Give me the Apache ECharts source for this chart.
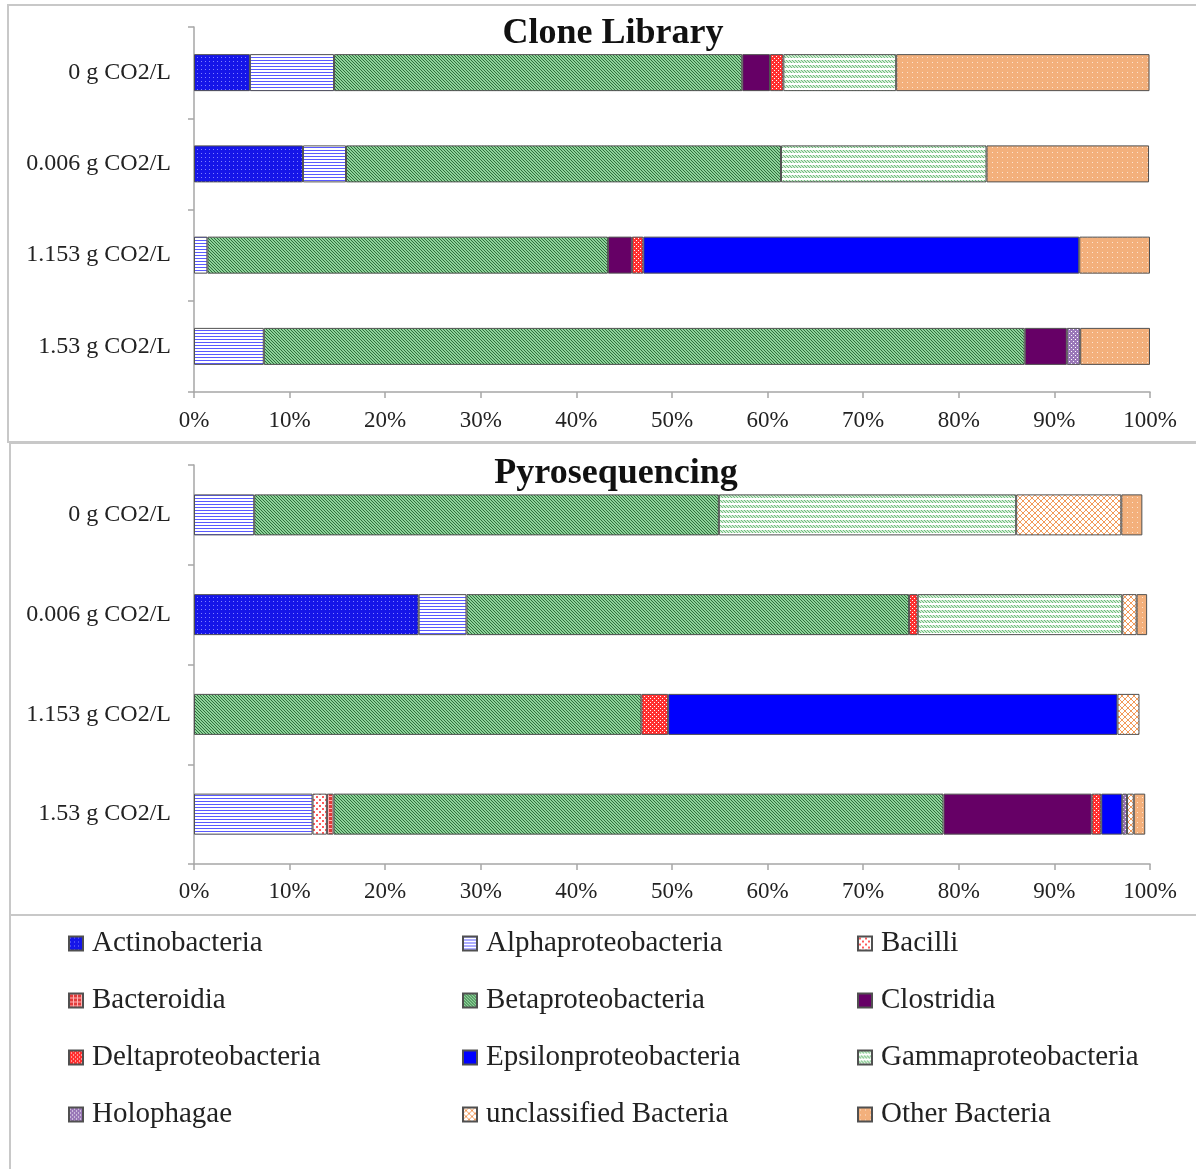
<!DOCTYPE html>
<html>
<head>
<meta charset="utf-8">
<script src="https://cdn.jsdelivr.net/npm/echarts@6/dist/echarts.min.js"></script>
<style>
  html, body { margin: 0; padding: 0; background: #fff; }
  #chart { width: 1196px; height: 1169px; }
</style>
</head>
<body>
<div id="chart"></div>
<script>
// treatments, top to bottom
var treatments = ['0 g CO2/L', '0.006 g CO2/L', '1.153 g CO2/L', '1.53 g CO2/L'];
var percentTicks = [0, 10, 20, 30, 40, 50, 60, 70, 80, 90, 100];

var classes = ['Actinobacteria', 'Alphaproteobacteria', 'Bacilli', 'Bacteroidia',
    'Betaproteobacteria', 'Clostridia', 'Deltaproteobacteria', 'Epsilonproteobacteria',
    'Gammaproteobacteria', 'Holophagae', 'unclassified Bacteria', 'Other Bacteria'];

// clone library (%), per class, in treatment order
var cloneActino   = [5.85, 11.4, 0, 0];
var cloneAlpha    = [8.8, 4.5, 1.4, 7.3];
var cloneBacilli  = [0, 0, 0, 0];
var cloneBactero  = [0, 0, 0, 0];
var cloneBeta     = [42.7, 45.5, 41.9, 79.6];
var cloneClos     = [2.9, 0, 2.5, 4.4];
var cloneDelta    = [1.4, 0, 1.2, 0];
var cloneEpsilon  = [0, 0, 45.6, 0];
var cloneGamma    = [11.8, 21.5, 0, 0];
var cloneHolo     = [0, 0, 0, 1.4];
var cloneUnclass  = [0, 0, 0, 0];
var cloneOther    = [26.5, 17.0, 7.4, 7.3];

// pyrosequencing (%)
var pyroActino    = [0, 23.5, 0, 0];
var pyroAlpha     = [6.3, 5.0, 0, 12.4];
var pyroBacilli   = [0, 0, 0, 1.5];
var pyroBactero   = [0, 0, 0, 0.7];
var pyroBeta      = [48.6, 46.3, 46.8, 63.8];
var pyroClos      = [0, 0, 0, 15.5];
var pyroDelta     = [0, 0.9, 2.8, 1.0];
var pyroEpsilon   = [0, 0, 47.0, 2.2];
var pyroGamma     = [31.1, 21.4, 0, 0];
var pyroHolo      = [0, 0, 0, 0.5];
var pyroUnclass   = [11.0, 1.5, 2.3, 0.7];
var pyroOther     = [2.2, 1.1, 0, 1.2];

var cloneData = [cloneActino, cloneAlpha, cloneBacilli, cloneBactero, cloneBeta, cloneClos,
    cloneDelta, cloneEpsilon, cloneGamma, cloneHolo, cloneUnclass, cloneOther];
var pyroData = [pyroActino, pyroAlpha, pyroBacilli, pyroBactero, pyroBeta, pyroClos,
    pyroDelta, pyroEpsilon, pyroGamma, pyroHolo, pyroUnclass, pyroOther];

// little canvas tiles for the excel-like hatch fills
function tile(w, h, bg, fg, pts) {
    var c = document.createElement('canvas');
    c.width = w; c.height = h;
    var ctx = c.getContext('2d');
    ctx.fillStyle = bg;
    ctx.fillRect(0, 0, w, h);
    ctx.fillStyle = fg;
    pts.forEach(function (p) { ctx.fillRect(p[0], p[1], p[2] || 1, p[3] || 1); });
    return { image: c, repeat: 'repeat' };
}

function gammaTile() {
    var c = document.createElement('canvas');
    c.width = 3; c.height = 5;
    var ctx = c.getContext('2d');
    ctx.fillStyle = '#ffffff';
    ctx.fillRect(0, 0, 3, 5);
    ctx.fillStyle = '#d3ecd6';
    ctx.fillRect(0, 0, 3, 3);
    ctx.fillStyle = '#6cbd79';
    ctx.fillRect(0, 0, 1, 1); ctx.fillRect(1, 1, 1, 1); ctx.fillRect(2, 2, 1, 1);
    return { image: c, repeat: 'repeat' };
}

var fills = [
    tile(4, 4, '#1515e8', '#7f7fff', [[1, 1]]),                       // Actino
    tile(1, 3, '#ffffff', '#5a5aff', [[0, 0]]),                       // Alpha
    tile(6, 6, '#ffffff', '#ff5a5a', [[1, 1, 2, 2], [4, 4, 2, 2]]),   // Bacilli
    tile(4, 4, '#e03a3a', '#ffb0b0', [[0, 0, 4, 1], [0, 0, 1, 4]]),   // Bacteroidia
    tile(3, 3, '#8ed39a', '#2f6f3c', [[0, 0], [1, 1], [2, 2]]),       // Beta
    '#660066',                                                        // Clostridia
    tile(4, 4, '#ff3030', '#ffffff', [[0, 0], [2, 2]]),               // Delta
    '#0000ff',                                                        // Epsilon
    gammaTile(),                                                      // Gamma
    tile(4, 4, '#9a78b8', '#ffffff', [[1, 1], [3, 3]]),               // Holophagae
    tile(6, 6, '#ffffff', '#f29a5a', [[0, 0], [1, 1], [2, 2], [3, 3], [4, 4], [5, 5],
        [5, 0], [4, 1], [3, 2], [2, 3], [1, 4], [0, 5]]),             // unclassified
    tile(5, 5, '#f3b07c', '#fde4d0', [[2, 2]])                        // Other
];

var serif = "'Liberation Serif', 'DejaVu Serif', serif";

function nz(arr) {
    return arr.map(function (v) { return v > 0 ? v : null; });
}

var series = [];
[cloneData, pyroData].forEach(function (set, gi) {
    set.forEach(function (vals, i) {
        series.push({
            name: classes[i],
            type: 'bar',
            stack: 'g' + gi,
            xAxisIndex: gi,
            yAxisIndex: gi,
            barWidth: gi === 0 ? 37 : 41,
            data: nz(vals),
            itemStyle: { color: fills[i], borderColor: '#505050', borderWidth: 1 },
            emphasis: { disabled: true }
        });
    });
});

function xAxisFor(gi) {
    return {
        type: 'value', gridIndex: gi, min: 0, max: 100, interval: 10,
        splitLine: { show: false },
        axisLine: { show: true, lineStyle: { color: '#a6a6a6', width: 1.5 } },
        axisTick: { show: true, length: 6, lineStyle: { color: '#a6a6a6', width: 1.5 } },
        axisLabel: {
            margin: gi === 0 ? 17 : 16, fontFamily: serif, fontSize: 23, color: '#222',
            formatter: function (v) { return percentTicks.indexOf(v) >= 0 ? v + '%' : ''; }
        }
    };
}

function yAxisFor(gi) {
    return {
        type: 'category', gridIndex: gi, data: treatments, inverse: true,
        axisLine: { show: true, lineStyle: { color: '#a6a6a6', width: 1.5 } },
        axisTick: { show: true, length: 6, lineStyle: { color: '#a6a6a6', width: 1.5 } },
        axisLabel: { margin: 23, fontFamily: serif, fontSize: 24, color: '#222' }
    };
}

var legendText = { fontFamily: serif, fontSize: 29, color: '#222', lineHeight: 29, padding: [0, 0, 0, 4] };
function legendCol(x, names) {
    return {
        orient: 'vertical', left: x, top: 929, itemGap: 28, padding: 0,
        itemWidth: 14, itemHeight: 14, icon: 'rect', selectedMode: false,
        data: names, textStyle: legendText
    };
}

var chart = echarts.init(document.getElementById('chart'), null, { renderer: 'canvas' });
chart.setOption({
    backgroundColor: '#ffffff',
    animation: false,
    title: [
        { text: 'Clone Library', left: 608, top: 11, textAlign: 'center',
          textStyle: { fontFamily: serif, fontSize: 36, fontWeight: 'bold', color: '#111' } },
        { text: 'Pyrosequencing', left: 611, top: 451, textAlign: 'center',
          textStyle: { fontFamily: serif, fontSize: 36, fontWeight: 'bold', color: '#111' } }
    ],
    grid: [
        { left: 194, right: 46, top: 27, height: 365 },
        { left: 194, right: 46, top: 465, height: 399 }
    ],
    xAxis: [xAxisFor(0), xAxisFor(1)],
    yAxis: [yAxisFor(0), yAxisFor(1)],
    legend: [
        legendCol(68, ['Actinobacteria', 'Bacteroidia', 'Deltaproteobacteria', 'Holophagae']),
        legendCol(462, ['Alphaproteobacteria', 'Betaproteobacteria', 'Epsilonproteobacteria', 'unclassified Bacteria']),
        legendCol(857, ['Bacilli', 'Clostridia', 'Gammaproteobacteria', 'Other Bacteria'])
    ],
    graphic: [
        { type: 'rect', shape: { x: 8, y: 5, width: 1200, height: 437 }, z: -1,
          style: { fill: null, stroke: '#c8c8c8', lineWidth: 2 } },
        { type: 'rect', shape: { x: 10, y: 443, width: 1200, height: 472 }, z: -1,
          style: { fill: null, stroke: '#c8c8c8', lineWidth: 2 } },
        { type: 'rect', shape: { x: 10, y: 915, width: 1200, height: 300 }, z: -1,
          style: { fill: null, stroke: '#c8c8c8', lineWidth: 2 } }
    ],
    series: series
});
</script>
</body>
</html>
